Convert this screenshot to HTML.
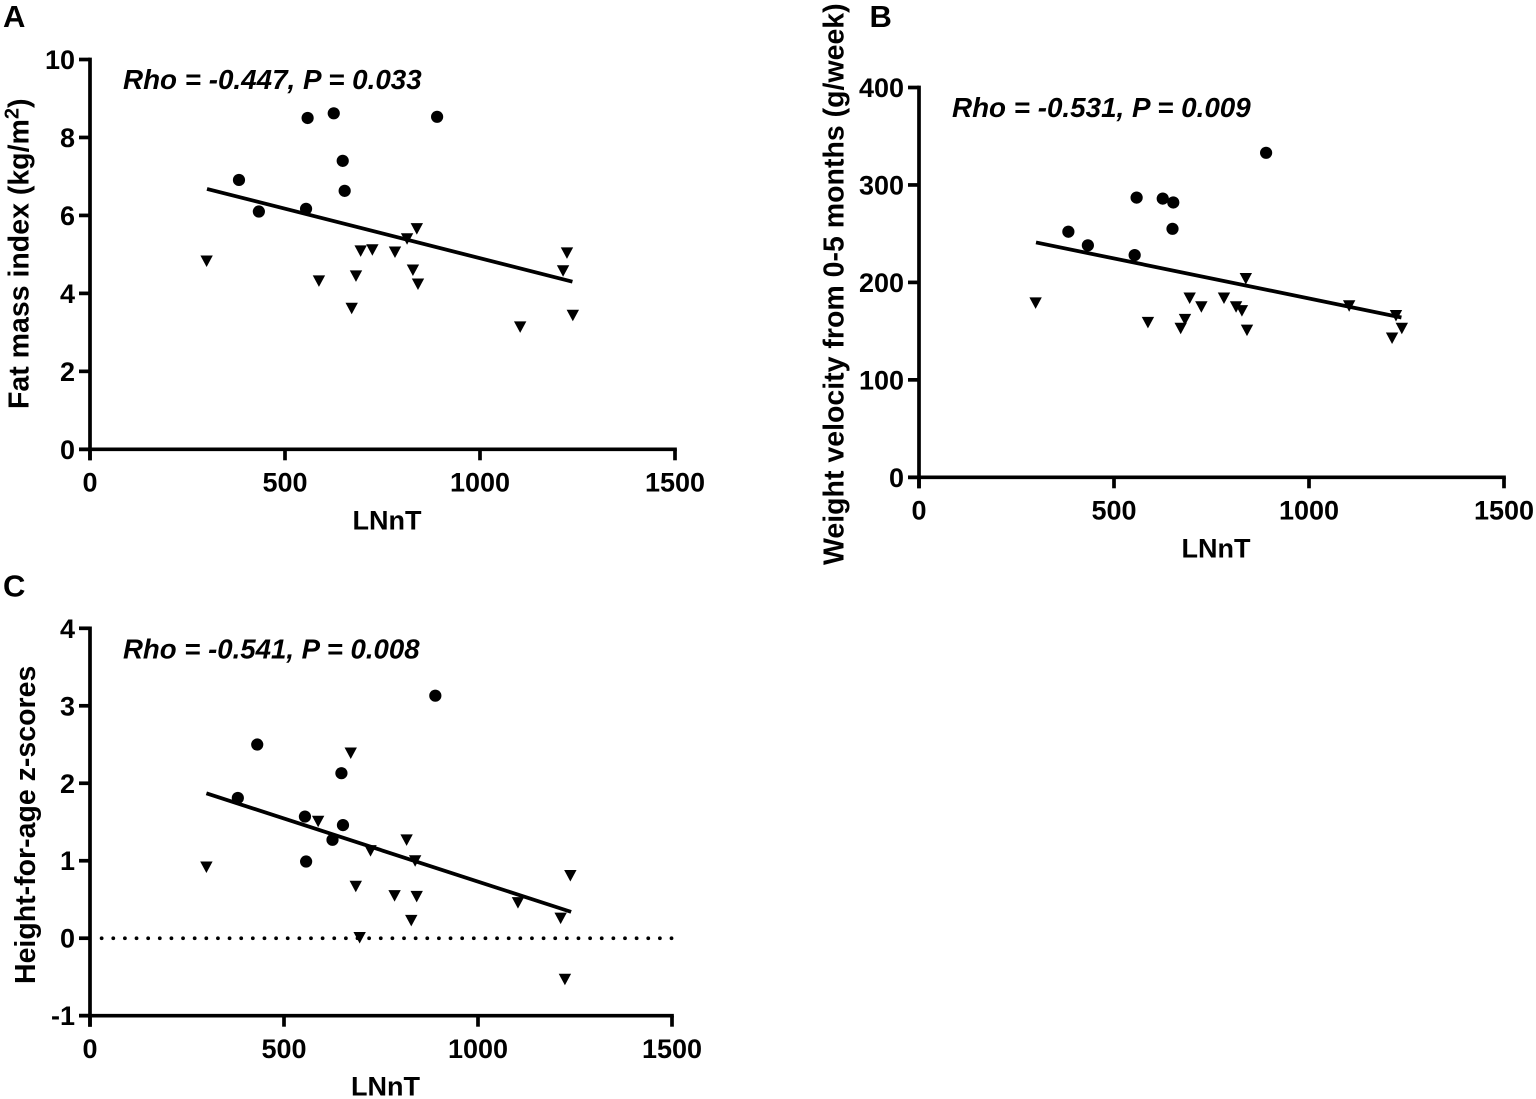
<!DOCTYPE html>
<html lang="en">
<head>
<meta charset="utf-8">
<title>LNnT correlations</title>
<style>
html,body{margin:0;padding:0;background:#fff;width:1536px;height:1099px;overflow:hidden}
svg{display:block}
text{font-family:"Liberation Sans",Arial,sans-serif;font-weight:bold;fill:#000}
</style>
</head>
<body>
<svg id="chart" width="1536" height="1099" viewBox="0 0 1536 1099" xmlns="http://www.w3.org/2000/svg"></svg>
<script>
// Shared x ticks
const xTicks = [0, 500, 1000, 1500];

// Panel A
const aYTicks = [0, 2, 4, 6, 8, 10];
const aCircleX = [382, 433, 554, 558, 625, 648, 653, 890];
const aCircleY = [6.91, 6.10, 6.17, 8.50, 8.62, 7.40, 6.63, 8.53];
const aTriX = [299, 587, 671, 682, 694, 724, 782, 813, 828, 841, 838, 1103, 1213, 1223, 1238];
const aTriY = [4.83, 4.32, 3.62, 4.45, 5.09, 5.12, 5.06, 5.40, 4.60, 4.24, 5.66, 3.14, 4.58, 5.04, 3.44];
const aLineX = [300, 1237];
const aLineY = [6.68, 4.30];

// Panel B
const bYTicks = [0, 100, 200, 300, 400];
const bCircleX = [383, 433, 553, 558, 625, 652, 650, 890];
const bCircleY = [252, 238, 228, 287, 286, 282, 255, 333];
const bTriX = [299, 587, 671, 682, 694, 724, 782, 813, 828, 841, 838, 1103, 1213, 1223, 1238];
const bTriY = [179, 159, 153, 162, 184, 175, 184, 175, 171, 151, 204, 176, 143, 166, 153];
const bLineX = [300, 1237];
const bLineY = [241, 164];

// Panel C
const cYTicks = [-1, 0, 1, 2, 3, 4];
const cCircleX = [381, 431, 554, 557, 625, 648, 652, 890];
const cCircleY = [1.81, 2.50, 1.57, 0.99, 1.27, 2.13, 1.46, 3.13];
const cTriX = [300, 588, 672, 685, 695, 723, 785, 816, 828, 838, 842, 1103, 1213, 1224, 1238];
const cTriY = [0.92, 1.51, 2.39, 0.67, 0.01, 1.13, 0.55, 1.27, 0.23, 1.00, 0.54, 0.46, 0.26, -0.53, 0.81];
const cLineX = [300, 1240];
const cLineY = [1.87, 0.34];
const cRefY = 0;

const NS = 'http://www.w3.org/2000/svg';
const root = document.getElementById('chart');

function mk(parent, tag, attrs, txt) {
  const el = document.createElementNS(NS, tag);
  for (const k in attrs) el.setAttribute(k, attrs[k]);
  if (txt !== undefined) el.textContent = txt;
  parent.appendChild(el);
  return el;
}

function drawPanel(p) {
  const sx = v => p.x0 + v * (p.x1 - p.x0) / 1500;
  const sy = v => p.yBottom + (v - p.yTicks[0]) * (p.yTop - p.yBottom) / (p.yTicks[p.yTicks.length - 1] - p.yTicks[0]);
  const AX = 3.7;

  const g = mk(root, 'g', {});
  
  

  const letter = mk(g, 'text', {x: p.letterX, y: p.letterY, 'font-size': 31}, p.id.toUpperCase());
  
  

  if (p.refY !== undefined) {
    const ref = mk(g, 'line', {x1: sx(30), x2: p.x1 + 1, y1: sy(p.refY), y2: sy(p.refY), stroke: '#000', 'stroke-width': 3.8, 'stroke-linecap': 'round', 'stroke-dasharray': '0 11.63'});
    
    
  }

  const yAxis = mk(g, 'line', {x1: p.x0, x2: p.x0, y1: p.yTop - AX / 2, y2: p.yBottom + 11, stroke: '#000', 'stroke-width': AX});
  
  

  const xAxis = mk(g, 'line', {x1: p.x0 - 11, x2: p.x1 + AX / 2, y1: p.yBottom, y2: p.yBottom, stroke: '#000', 'stroke-width': AX});
  
  

  p.yTicks.forEach(t => {
    const tick = mk(g, 'line', {x1: p.x0 - 11, x2: p.x0, y1: sy(t), y2: sy(t), stroke: '#000', 'stroke-width': AX});
    
    
    const lab = mk(g, 'text', {x: p.x0 - 15, y: sy(t) + 9.5, 'font-size': 27, 'text-anchor': 'end'}, String(t));
    
    
  });

  xTicks.forEach(t => {
    const tick = mk(g, 'line', {x1: sx(t), x2: sx(t), y1: p.yBottom, y2: p.yBottom + 11, stroke: '#000', 'stroke-width': AX});
    
    
    const lab = mk(g, 'text', {x: sx(t), y: p.yBottom + 42.3, 'font-size': 27, 'text-anchor': 'middle'}, String(t));
    
    
  });

  const xt = mk(g, 'text', {x: (p.x0 + p.x1) / 2 + 4.5, y: p.yBottom + 80, 'font-size': 27, 'text-anchor': 'middle'}, 'LNnT');
  
  

  const yt = mk(g, 'text', {transform: 'translate(' + p.yTitleX + ' ' + p.yTitleY + ') rotate(-90)', 'font-size': 28.5, 'text-anchor': 'start'});
  
  
  mk(yt, 'tspan', {}, p.yTitle);
  if (p.yTitleSup) {
    mk(yt, 'tspan', {dy: -10, 'font-size': 20}, p.yTitleSup);
    mk(yt, 'tspan', {dy: 10}, p.yTitleEnd);
  }

  const stat = mk(g, 'text', {x: p.statX, y: p.statY, 'font-size': p.statSize, 'font-style': 'italic'}, p.stat);
  
  

  const fit = mk(g, 'line', {x1: sx(p.lineX[0]), y1: sy(p.lineY[0]), x2: sx(p.lineX[1]), y2: sy(p.lineY[1]), stroke: '#000', 'stroke-width': 3.8});
  
  

  p.circleX.forEach((v, i) => {
    const c = mk(g, 'circle', {cx: sx(v), cy: sy(p.circleY[i]), r: 6.1, fill: '#000'});
    
    
  });

  p.triX.forEach((v, i) => {
    const px = sx(v), py = sy(p.triY[i]);
    const t = mk(g, 'polygon', {points: (px - 6.2) + ',' + (py - 5.5) + ' ' + (px + 6.2) + ',' + (py - 5.5) + ' ' + px + ',' + (py + 6), fill: '#000'});
    
    
  });
}

drawPanel({
  id: 'a', x0: 90, x1: 675, yTop: 59.5, yBottom: 449.3, yTicks: aYTicks,
  letterX: 3, letterY: 27,
  yTitle: 'Fat mass index (kg/m', yTitleSup: '2', yTitleEnd: ')', yTitleX: 28.3, yTitleY: 409,
  stat: 'Rho = -0.447, P = 0.033', statX: 123, statY: 88.8, statSize: 27.8,
  circleX: aCircleX, circleY: aCircleY, triX: aTriX, triY: aTriY, lineX: aLineX, lineY: aLineY
});
drawPanel({
  id: 'b', x0: 919, x1: 1504, yTop: 87.5, yBottom: 477.3, yTicks: bYTicks,
  letterX: 869.5, letterY: 27,
  yTitle: 'Weight velocity from 0-5 months (g/week)', yTitleX: 843.3, yTitleY: 565,
  stat: 'Rho = -0.531, P = 0.009', statX: 952, statY: 117, statSize: 27.8,
  circleX: bCircleX, circleY: bCircleY, triX: bTriX, triY: bTriY, lineX: bLineX, lineY: bLineY
});
drawPanel({
  id: 'c', x0: 90, x1: 672, yTop: 628.3, yBottom: 1015.7, yTicks: cYTicks, refY: cRefY,
  letterX: 3, letterY: 596.5,
  yTitle: 'Height-for-age z-scores', yTitleX: 35, yTitleY: 984,
  stat: 'Rho = -0.541, P = 0.008', statX: 123, statY: 658.5, statSize: 27.6,
  circleX: cCircleX, circleY: cCircleY, triX: cTriX, triY: cTriY, lineX: cLineX, lineY: cLineY
});
</script>
</body>
</html>
